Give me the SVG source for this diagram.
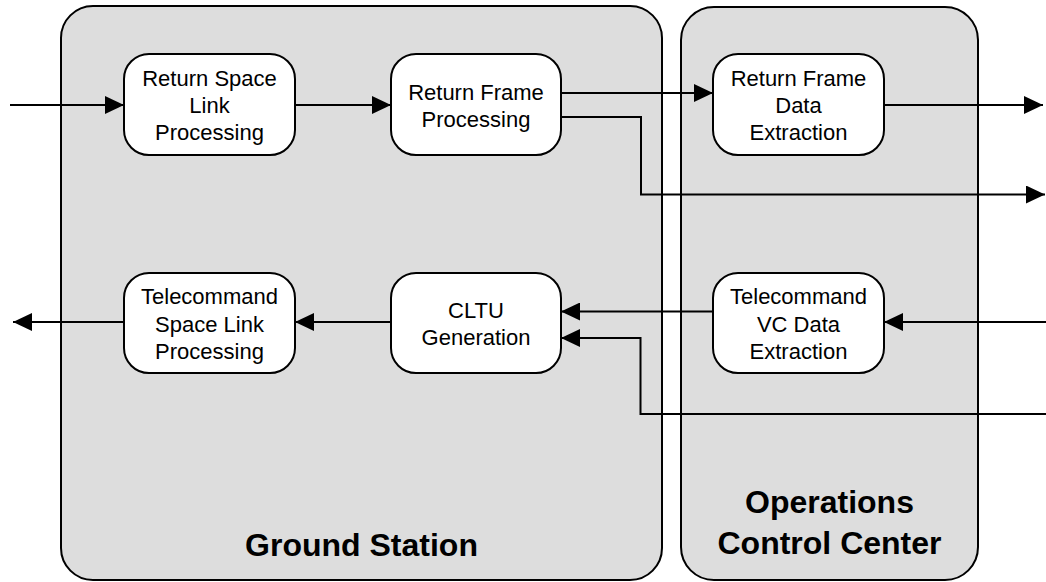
<svg xmlns="http://www.w3.org/2000/svg" width="1046" height="582" viewBox="0 0 1046 582">
<style>
.cont{fill:#dddddd;stroke:#000;stroke-width:2}
.node{fill:#fff;stroke:#000;stroke-width:2}
.nt{font-family:"Liberation Sans",Arial,sans-serif;font-size:22px;fill:#000;text-anchor:middle}
.ct{font-family:"Liberation Sans",Arial,sans-serif;font-size:32px;font-weight:bold;fill:#000;text-anchor:middle}
.conn{fill:none;stroke:#000;stroke-width:2;marker-end:url(#arr)}
</style>
<defs>
<marker id="arr" markerUnits="userSpaceOnUse" markerWidth="19" markerHeight="18" refX="19" refY="9" orient="auto">
<path d="M0,0 L19,9 L0,18 Z" fill="#000"/>
</marker>
</defs>
<rect width="1046" height="582" fill="#fff"/>
<g id="ground-station">
<rect class="cont" x="61" y="6" width="601" height="574" rx="32" ry="32"/>
<text class="ct" x="361.5" y="556">Ground Station</text>
</g>
<g id="operations-control-center">
<rect class="cont" x="681" y="7" width="297" height="573" rx="33" ry="33"/>
<text class="ct" x="829.5" y="513">Operations</text>
<text class="ct" x="829.5" y="554">Control Center</text>
</g>
<g id="connectors">
<path class="conn" d="M10,105 H124"/>
<path class="conn" d="M295,105 H391"/>
<path class="conn" d="M561,93 H713"/>
<path class="conn" d="M561,117 H641 V194.5 H1045"/>
<path class="conn" d="M884,105 H1043"/>
<path class="conn" d="M1046,322 H884"/>
<path class="conn" d="M713,311.5 H561"/>
<path class="conn" d="M1046,414 H640.5 V338 H561"/>
<path class="conn" d="M391,322 H295"/>
<path class="conn" d="M124,322 H13"/>
</g>
<g id="return-space-link-processing">
<rect class="node" x="124" y="54" width="171" height="101" rx="25" ry="25"/>
<text class="nt" x="209.5" y="86">Return Space</text>
<text class="nt" x="209.5" y="113">Link</text>
<text class="nt" x="209.5" y="140">Processing</text>
</g>
<g id="return-frame-processing">
<rect class="node" x="391" y="54" width="170" height="101" rx="25" ry="25"/>
<text class="nt" x="476" y="100">Return Frame</text>
<text class="nt" x="476" y="127">Processing</text>
</g>
<g id="return-frame-data-extraction">
<rect class="node" x="713" y="54" width="171" height="101" rx="25" ry="25"/>
<text class="nt" x="798.5" y="86">Return Frame</text>
<text class="nt" x="798.5" y="113">Data</text>
<text class="nt" x="798.5" y="140">Extraction</text>
</g>
<g id="telecommand-space-link-processing">
<rect class="node" x="124" y="273" width="171" height="100" rx="25" ry="25"/>
<text class="nt" x="209.5" y="304">Telecommand</text>
<text class="nt" x="209.5" y="331.5">Space Link</text>
<text class="nt" x="209.5" y="359">Processing</text>
</g>
<g id="cltu-generation">
<rect class="node" x="391" y="273" width="170" height="100" rx="25" ry="25"/>
<text class="nt" x="476" y="317.5">CLTU</text>
<text class="nt" x="476" y="345">Generation</text>
</g>
<g id="telecommand-vc-data-extraction">
<rect class="node" x="713" y="273" width="171" height="100" rx="25" ry="25"/>
<text class="nt" x="798.5" y="304">Telecommand</text>
<text class="nt" x="798.5" y="331.5">VC Data</text>
<text class="nt" x="798.5" y="359">Extraction</text>
</g>
</svg>
